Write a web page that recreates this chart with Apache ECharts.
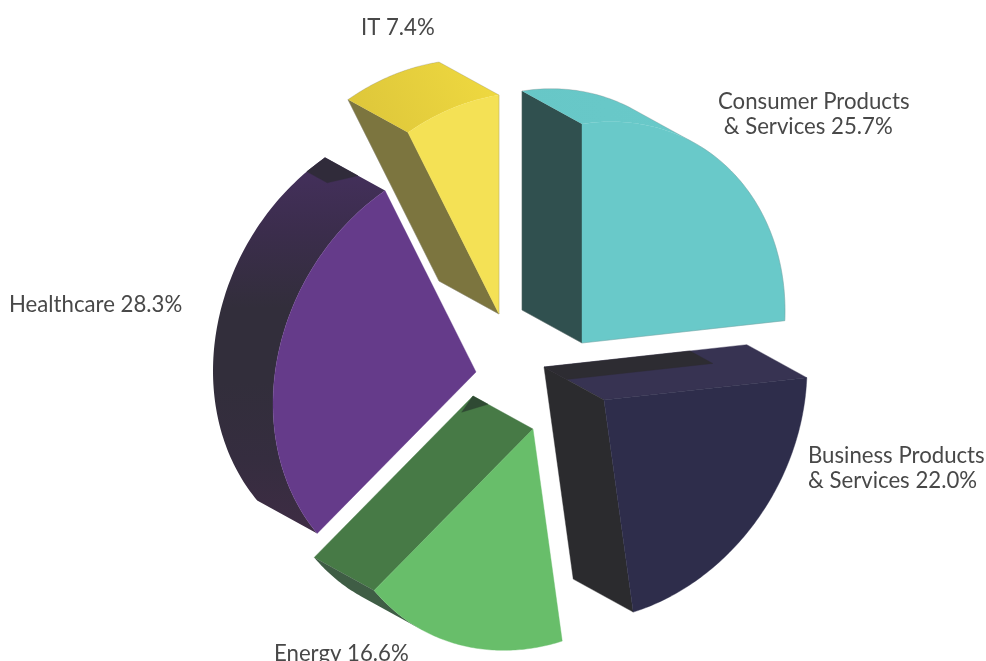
<!DOCTYPE html>
<html>
<head>
<meta charset="utf-8">
<style>html,body{margin:0;padding:0;background:#fff}#c{width:986px;height:661px}</style>
<script src="https://cdn.jsdelivr.net/npm/echarts@6/dist/echarts.min.js"></script>
</head>
<body>
<div id="c"></div>
<script>
// Data, clockwise from the top of the pie
const categories = ['Consumer Products\n & Services', 'Business Products\n& Services', 'Energy', 'Healthcare', 'IT'];
const shares = [25.7, 22.0, 16.6, 28.3, 7.4];

// Projection of the disc: a sheared circle extruded along DEPTH
const AXIS_A = [0, -219];
const AXIS_B = [203, -32];
const DEPTH = [-60, -33];
// Exploded position of each slice's apex
const APEX = [[582, 343], [604, 400], [533, 429], [476, 372], [499, 314]];
const LABEL_POS = [[718, 89], [808, 443], [274, 641], [9, 292], [361, 15]];

const STYLES = [
  { front: '#69c9c9', startSide: '#30504f', endSide: '#30504f', arc: ['#69c9c9', '#67c7c7'], dir: [1, 0, 0, 0], outline: true },
  { front: '#2e2d4b', startSide: '#373352', endSide: '#2b2b2e', arc: ['#2e2d4b', '#2e2d4b'], dir: [0, 1, 0, 0] },
  { front: '#68be6a', startSide: '#477a46', endSide: '#477a46', arc: ['#3f5d45', '#3f5d45'], dir: [0, 1, 0, 0] },
  { front: '#653b8a', startSide: '#332d3c', endSide: '#332d3c',
    arc: ['#3e2c44', '#352d3f', '#322e3b', '#322e3b', '#3b2d4c', '#45305e'], dir: [0, 1, 0, 0] },
  { front: '#f4e155', startSide: '#7c753f', endSide: '#7c753f', arc: ['#dcc53a', '#f0da40'], dir: [0, 1, 1, 0], outline: true }
];
// Shadow facets on the extruded walls: [radius factor, sweep fraction, depth fraction]
const FACETS = [
  { slice: 1, color: '#2d2c32', points: [[0, 0, 1], [0.72, 0, 1], [0.72, 0, 0.62], [0, 0, 0.62]] },
  { slice: 2, color: '#2f4a33', points: [[0, 1, 1], [0, 1, 0.75], [0.09, 1, 0.95]] },
  { slice: 3, color: '#302b3a', points: [[1, 1, 1], [1, 0.942, 1], [1, 0.942, 0.66], [1, 1, 0.45]] }
];

const total = shares.reduce((a, b) => a + b, 0);
const startAngles = [];
shares.reduce((acc, v, i) => { startAngles[i] = acc; return acc + v / total * Math.PI * 2; }, 0);

function rim(th) {
  return [AXIS_A[0] * Math.cos(th) + AXIS_B[0] * Math.sin(th),
          AXIS_A[1] * Math.cos(th) + AXIS_B[1] * Math.sin(th)];
}
function place(apex, s, th, t) {
  const p = rim(th);
  return [apex[0] + s * p[0] + t * DEPTH[0], apex[1] + s * p[1] + t * DEPTH[1]];
}
function wallVisible(a, b) {
  const tx = b[0] - a[0], ty = b[1] - a[1];
  return ty * DEPTH[0] - tx * DEPTH[1] > 0;
}

function renderItem(params, api) {
  const i = api.value(0);
  const sweep = api.value(1) / total * Math.PI * 2;
  const th0 = startAngles[i], th1 = th0 + sweep;
  const apex = APEX[i], st = STYLES[i];
  const children = [];
  const poly = (pts, fill, extra) => children.push({
    type: 'polygon', shape: { points: pts },
    style: Object.assign({ fill: fill, stroke: typeof fill === 'string' ? fill : null, lineWidth: 0.4 }, extra || {})
  });

  const N = 90, arcPts = [];
  for (let k = 0; k <= N; k++) arcPts.push(place(apex, 1, th0 + sweep * k / N, 0));
  const A0 = place(apex, 0, th0, 0);
  const T0 = arcPts[0], T1 = arcPts[N];

  if (wallVisible(A0, T0)) {
    poly([A0, T0, place(apex, 1, th0, 1), place(apex, 0, th0, 1)], st.startSide);
  }
  if (wallVisible(T1, A0)) {
    poly([T1, A0, place(apex, 0, th1, 1), place(apex, 1, th1, 1)], st.endSide);
  }
  // outer curved wall: the contiguous run of rim segments facing the extrusion
  const run = [];
  for (let k = 0; k < N; k++) if (wallVisible(arcPts[k], arcPts[k + 1])) run.push(k);
  let silhouette = null;
  if (run.length) {
    const ks = [run[0]];
    run.forEach(k => ks.push(k + 1));
    const frontEdge = ks.map(k => arcPts[k]);
    const backEdge = ks.map(k => [arcPts[k][0] + DEPTH[0], arcPts[k][1] + DEPTH[1]]);
    const stops = st.arc.map((c, j) => ({ offset: j / (st.arc.length - 1), color: c }));
    const d = st.dir;
    poly(frontEdge.concat(backEdge.slice().reverse()),
      new echarts.graphic.LinearGradient(d[0], d[1], d[2], d[3], stops));
    silhouette = [place(apex, 0, th0, 1)].concat(backEdge, arcPts.slice(ks[ks.length - 1]), [A0]);
  }
  FACETS.filter(f => f.slice === i).forEach(f => {
    poly(f.points.map(p => place(apex, p[0], th0 + p[1] * sweep, p[2])), f.color);
  });
  // front face
  poly([A0].concat(arcPts), st.front);
  if (st.outline && silhouette) {
    children.push({
      type: 'polygon', shape: { points: silhouette },
      style: { fill: 'none', stroke: 'rgba(125,125,125,0.45)', lineWidth: 0.6 }
    });
  }

  children.push({
    type: 'text',
    x: LABEL_POS[i][0], y: LABEL_POS[i][1],
    style: {
      text: categories[i] + ' ' + api.value(1).toFixed(1) + '%',
      font: '400 22.2px Lato, "Open Sans", sans-serif',
      fill: '#484848', lineHeight: 25, align: 'left', verticalAlign: 'top'
    }
  });
  return { type: 'group', children };
}

const chart = echarts.init(document.getElementById('c'), null, { renderer: 'canvas' });
chart.setOption({
  animation: false,
  backgroundColor: '#ffffff',
  series: [{
    type: 'custom',
    coordinateSystem: 'none',
    renderItem: renderItem,
    data: shares.map((v, i) => [i, v]),
    silent: true
  }]
});
</script>
</body>
</html>
